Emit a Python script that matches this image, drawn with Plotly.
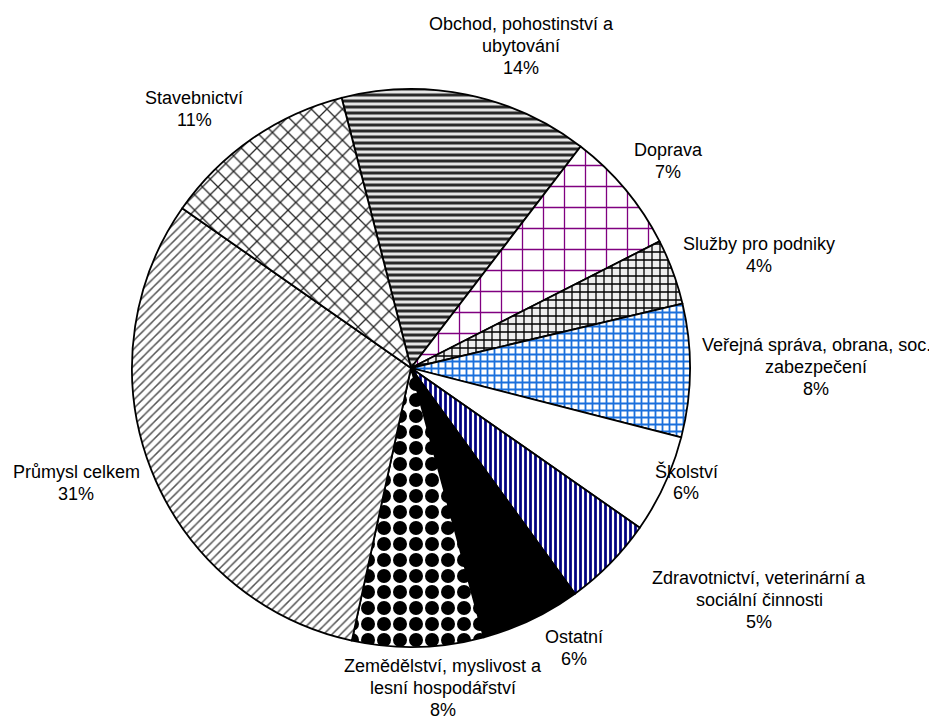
import plotly.graph_objects as go

categories = [
    "Obchod, pohostinství a<br>ubytování",
    "Doprava",
    "Služby pro podniky",
    "Veřejná správa, obrana, soc.<br>zabezpečení",
    "Školství",
    "Zdravotnictví, veterinární a<br>sociální činnosti",
    "Ostatní",
    "Zemědělství, myslivost a<br>lesní hospodářství",
    "Průmysl celkem",
    "Stavebnictví",
]
values = [14.4, 7.1, 3.8, 7.7, 5.7, 5.3, 5.8, 7.6, 31.3, 11.3]

# slice styling
shapes = ["-", "+", "+", "+", "", "|", "", ".", "/", "x"]
fgcolors = ["#2a2a2a", "#800080", "#000000", "#1a6fdc", "#ffffff", "#000080",
            "#000000", "#000000", "#555555", "#262626"]
bgcolors = ["#e6e6e6", "#ffffff", "#eeeeee", "#ffffff", "#ffffff", "#ffffff",
            "#000000", "#ffffff", "#ffffff", "#ffffff"]
sizes = [6, 21, 8, 7, 8, 5, 8, 16, 6, 11]
solidities = [0.5, 0.12, 0.3, 0.45, 0.3, 0.55, 0.3, 0.6, 0.25, 0.22]

# layout: label block centres in page pixels (text placement only)
label_pos = [(519, 44), (666, 159), (757, 253), (814, 365), (684, 480),
             (757, 598), (572, 646), (441, 686), (74, 481), (192, 107)]
LINE = 22  # line spacing of label text, px

W, H = 937, 720
OFF = 6  # page offset of the figure inside the browser window
cx, cy, R = 409 - OFF, 366 - OFF, 279

total = sum(values)
texts = [f"{c}<br>{round(v / total * 100):.0f}%" for c, v in zip(categories, values)]

fig = go.Figure(go.Pie(
    labels=categories,
    values=values,
    sort=False,
    direction="clockwise",
    rotation=-14.4,
    textinfo="none",
    hoverinfo="label+percent",
    marker=dict(
        colors=bgcolors,
        line=dict(color="#000000", width=1.8),
        pattern=dict(shape=shapes, fgcolor=fgcolors, bgcolor=bgcolors,
                     size=sizes, solidity=solidities, fillmode="replace"),
    ),
    domain=dict(x=[(cx - R) / W, (cx + R) / W], y=[(H - cy - R) / H, (H - cy + R) / H]),
    automargin=False,
    showlegend=False,
))

for t, (px, py) in zip(texts, label_pos):
    lines = t.split("<br>")
    n = len(lines)
    for i, ln in enumerate(lines):
        ly = py + (i - (n - 1) / 2) * LINE
        fig.add_annotation(
            text=ln, xref="paper", yref="paper",
            x=(px - OFF) / W, y=1 - (ly - OFF) / H,
            xanchor="center", yanchor="middle", showarrow=False,
            font=dict(family="Liberation Sans, Arial, sans-serif", size=18, color="#000000"),
        )

fig.update_layout(
    width=W, height=H,
    margin=dict(l=0, r=0, t=0, b=0),
    paper_bgcolor="#ffffff",
    plot_bgcolor="#ffffff",
    showlegend=False,
)

fig.write_html("out.html")
